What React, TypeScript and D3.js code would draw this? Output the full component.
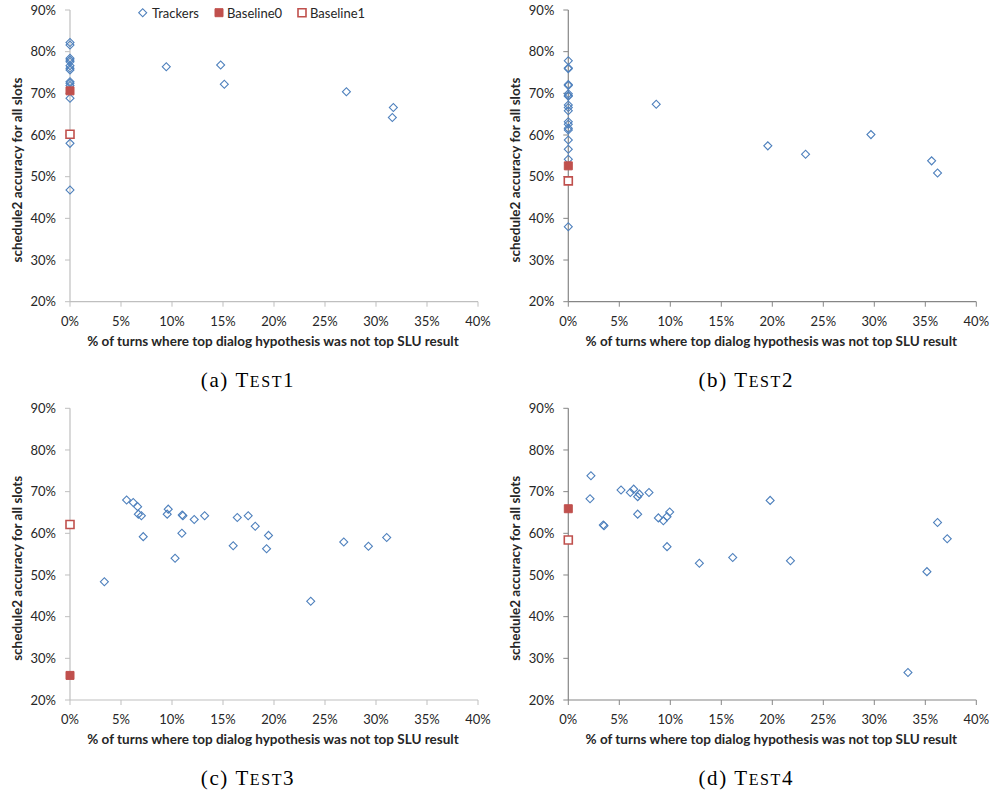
import React from "react";
import * as d3 from "d3";

// [x% of turns, y% accuracy]
const test1Trackers: [number, number][] = [
  [0, 82.2], [0, 81.6], [0, 78.4], [0, 78.0], [0, 77.6], [0, 76.6], [0, 76.0], [0, 75.6],
  [0, 72.8], [0, 72.4], [0, 71.9], [0, 68.8], [0, 58.0], [0, 46.8],
  [9.44, 76.4], [14.77, 76.8], [15.13, 72.2], [27.1, 70.4], [31.7, 66.6], [31.6, 64.2],
];
const test1Baseline0: [number, number] = [0, 70.6];
const test1Baseline1: [number, number] = [0, 60.2];

const test2Trackers: [number, number][] = [
  [0, 77.8], [0, 76.1], [0, 75.9], [0, 72.1], [0, 71.9], [0, 69.9], [0, 69.5], [0, 69.3],
  [0, 67.2], [0, 66.6], [0, 65.8], [0, 63.2], [0, 62.6], [0, 61.6], [0, 61.2], [0, 58.8],
  [0, 56.6], [0, 54.2], [0, 38.0],
  [8.62, 67.4], [19.56, 57.4], [23.26, 55.4], [29.67, 60.1], [35.62, 53.8], [36.2, 50.9],
];
const test2Baseline0: [number, number] = [0, 52.6];
const test2Baseline1: [number, number] = [0, 49.0];

const test3Trackers: [number, number][] = [
  [3.37, 48.4], [5.55, 68.0], [6.2, 67.4], [6.63, 66.4], [6.7, 64.6], [7.0, 64.2], [7.18, 59.2],
  [9.63, 65.8], [9.53, 64.6], [10.3, 54.0], [11.0, 64.4], [11.07, 64.2], [10.97, 60.0],
  [12.18, 63.3], [13.2, 64.2], [16.0, 57.0], [16.4, 63.8], [17.47, 64.2], [18.16, 61.7],
  [19.46, 59.5], [19.27, 56.3], [23.6, 43.7], [26.84, 57.9], [29.26, 56.9], [31.05, 59.0],
];
const test3Baseline0: [number, number] = [0, 25.9];
const test3Baseline1: [number, number] = [0, 62.1];

const test4Trackers: [number, number][] = [
  [2.22, 73.8], [2.13, 68.3], [3.43, 62.0], [3.5, 61.8], [5.17, 70.4], [6.08, 69.8],
  [6.41, 70.6], [6.8, 68.8], [6.97, 69.4], [7.91, 69.8], [6.8, 64.6], [8.83, 63.7],
  [9.32, 63.0], [9.68, 64.0], [9.94, 65.1], [9.68, 56.8], [12.85, 52.8], [16.12, 54.2],
  [19.79, 67.9], [21.78, 53.4], [33.3, 26.6], [35.16, 50.8], [36.2, 62.6], [37.15, 58.7],
];
const test4Baseline0: [number, number] = [0, 65.9];
const test4Baseline1: [number, number] = [0, 58.4];

const legendLabels = ["Trackers", "Baseline0", "Baseline1"];
const xTitle = "% of turns where top dialog hypothesis was not top SLU result";
const yTitle = "schedule2 accuracy for all slots";

const BLUE = "#4f81bd";
const RED = "#c0504d";
const FONT = "Lato, 'Open Sans', sans-serif";

const diamond = d3.symbol(d3.symbolSquare, 32)();
const square = d3.symbol(d3.symbolSquare, 64)();

type PanelProps = {
  left: number;
  top: number;
  axisColor: string;
  trackers: [number, number][];
  baseline0: [number, number];
  baseline1: [number, number];
  letter: string;
  num: string;
  legend?: boolean;
};

function Panel({ left, top, axisColor, trackers, baseline0, baseline1, letter, num, legend }: PanelProps) {
  const x = d3.scaleLinear().domain([0, 40]).range([left, left + 408]);
  const y = d3.scaleLinear().domain([20, 90]).range([top + 291.7, top]);
  const xTicks = d3.range(0, 41, 5);
  const yTicks = d3.range(20, 91, 10);
  const y0 = y(20);
  const x0 = x(0);

  return (
    <g>
      {/* axes */}
      <line x1={x0} x2={x0} y1={y(90)} y2={y0} stroke={axisColor} strokeWidth={1.2} />
      <line x1={x0} x2={x(40)} y1={y0} y2={y0} stroke={axisColor} strokeWidth={1.2} />
      {yTicks.map((t) => (
        <g key={"y" + t}>
          <line x1={x0 - 5} x2={x0} y1={y(t)} y2={y(t)} stroke={axisColor} />
          <text x={x0 - 14} y={y(t)} dy="0.35em" textAnchor="end" fontSize={13} fill="#262626" fontFamily={FONT}>
            {t}%
          </text>
        </g>
      ))}
      {xTicks.map((t) => (
        <g key={"x" + t}>
          <line x1={x(t)} x2={x(t)} y1={y0} y2={y0 + 5} stroke={axisColor} />
          <text x={x(t)} y={y0 + 24} textAnchor="middle" fontSize={13} fill="#262626" fontFamily={FONT}>
            {t}%
          </text>
        </g>
      ))}
      <text x={left + 203} y={y0 + 44} textAnchor="middle" fontSize={13.5} fontWeight="bold" fill="#262626" fontFamily={FONT}>
        {xTitle}
      </text>
      <text
        transform={`translate(${left - 48},${top + 160}) rotate(-90)`}
        textAnchor="middle"
        fontSize={13.5}
        fontWeight="bold"
        fill="#262626"
        fontFamily={FONT}
      >
        {yTitle}
      </text>

      {/* marks */}
      {trackers.map((d, i) => (
        <path
          key={i}
          d={diamond}
          transform={`translate(${x(d[0])},${y(d[1])}) rotate(45)`}
          fill="white"
          fillOpacity={0}
          stroke={BLUE}
          strokeWidth={1.1}
        />
      ))}
      <path d={square} transform={`translate(${x(baseline0[0])},${y(baseline0[1])})`} fill={RED} stroke={RED} strokeWidth={1} />
      <path d={square} transform={`translate(${x(baseline1[0])},${y(baseline1[1])})`} fill="white" stroke={RED} strokeWidth={1.6} />

      {legend && (
        <g fontFamily={FONT} fontSize={13} fill="#262626">
          <path d={diamond} transform={`translate(${left + 72.7},${top + 2.7}) rotate(45)`} fill="white" stroke={BLUE} strokeWidth={1.1} />
          <text x={left + 82} y={top + 7.5}>{legendLabels[0]}</text>
          <path d={square} transform={`translate(${left + 149},${top + 2.7})`} fill={RED} stroke={RED} />
          <text x={left + 157} y={top + 7.5}>{legendLabels[1]}</text>
          <path d={square} transform={`translate(${left + 232},${top + 2.7})`} fill="white" stroke={RED} strokeWidth={1.6} />
          <text x={left + 240} y={top + 7.5}>{legendLabels[2]}</text>
        </g>
      )}

      <text
        x={left + 178}
        y={top + 377}
        textAnchor="middle"
        fontSize={21}
        letterSpacing={1.6}
        fill="#000"
        fontFamily="'Liberation Serif', 'DejaVu Serif', serif"
      >
        ({letter}) T<tspan fontSize={16}>EST</tspan>{num}
      </text>
    </g>
  );
}

export default function App() {
  return (
    <svg width={990} height={791} style={{ position: "absolute", left: 0, top: 0, background: "white" }}>
      <rect width={990} height={791} fill="white" />
      <Panel left={70} top={10} axisColor="#bfbfbf" trackers={test1Trackers} baseline0={test1Baseline0} baseline1={test1Baseline1} letter="a" num="1" legend />
      <Panel left={568.3} top={10} axisColor="#868686" trackers={test2Trackers} baseline0={test2Baseline0} baseline1={test2Baseline1} letter="b" num="2" />
      <Panel left={70} top={408.3} axisColor="#bfbfbf" trackers={test3Trackers} baseline0={test3Baseline0} baseline1={test3Baseline1} letter="c" num="3" />
      <Panel left={568.3} top={408.3} axisColor="#868686" trackers={test4Trackers} baseline0={test4Baseline0} baseline1={test4Baseline1} letter="d" num="4" />
    </svg>
  );
}
